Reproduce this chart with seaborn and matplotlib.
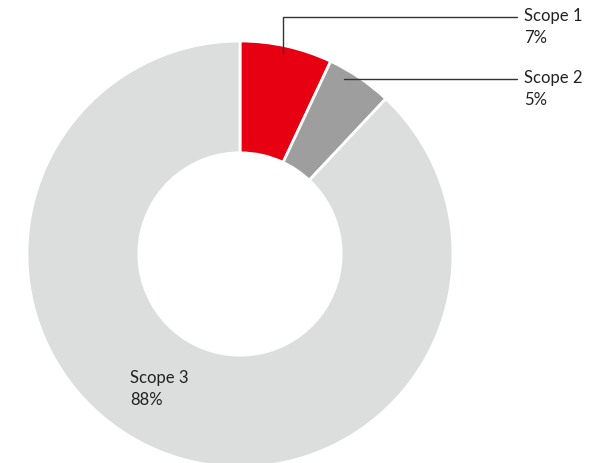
import matplotlib
matplotlib.use("Agg")
import matplotlib.pyplot as plt
import seaborn as sns
import numpy as np

sns.set_theme(style="white")
plt.rcParams['font.family'] = ['Lato', 'DejaVu Sans']

categories = ["Scope 1", "Scope 2", "Scope 3"]
values = [7, 5, 88]
pct_labels = ["7%", "5%", "88%"]
colors = ["#E60012", "#9D9E9D", "#DCDDDD"]

W, H = 597, 463
fig = plt.figure(figsize=(W / 100, H / 100), dpi=100)
cx, cy, R = 240, 254, 213
ax = fig.add_axes([(cx - R) / W, (H - cy - R) / H, 2 * R / W, 2 * R / H])

wedges, _ = ax.pie(values, colors=colors, startangle=90, counterclock=False,
                   radius=1, wedgeprops=dict(width=0.525, edgecolor="white", linewidth=2))
ax.set_xlim(-1, 1)
ax.set_ylim(-1, 1)
ax.set_aspect("equal")
ax.axis("off")
for w in wedges:
    w.set_clip_on(False)

def px2d(px, py):
    return (px - cx) / R, (cy - py) / R

lc = "#333333"
tc = "#222222"
fs = 12
ls = 1.45
# Scope 1 leader
x0, y0 = px2d(283, 53)
x1, y1 = px2d(283, 17)
x2, y2 = px2d(517, 17)
ax.plot([x0, x1, x2], [y0, y1, y2], color=lc, lw=1, clip_on=False)
tx, ty = px2d(524, 27)
ax.text(tx, ty, f"{categories[0]}\n{pct_labels[0]}", ha="left", va="center",
        fontsize=fs, color=tc, linespacing=ls)
# Scope 2 leader
x0, y0 = px2d(344, 79)
x2, y2 = px2d(517, 79)
ax.plot([x0, x2], [y0, y2], color=lc, lw=1, clip_on=False)
tx, ty = px2d(524, 89)
ax.text(tx, ty, f"{categories[1]}\n{pct_labels[1]}", ha="left", va="center",
        fontsize=fs, color=tc, linespacing=ls)
# Scope 3 label
tx, ty = px2d(130, 389)
ax.text(tx, ty, f"{categories[2]}\n{pct_labels[2]}", ha="left", va="center",
        fontsize=fs, color=tc, linespacing=ls)

fig.savefig("out.png", dpi=100)
